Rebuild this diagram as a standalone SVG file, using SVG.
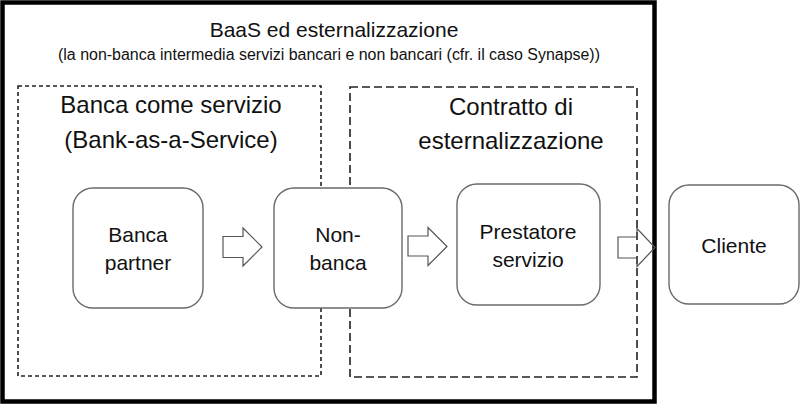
<svg xmlns="http://www.w3.org/2000/svg" width="800" height="405" viewBox="0 0 800 405">
<style>
text{font-family:"Liberation Sans",Arial,sans-serif;fill:#111;text-anchor:middle}
.node rect{fill:#fff;stroke:#6a6a6a;stroke-width:1.4}
.node text{font-size:21px}
.arrow{fill:none;stroke:#555;stroke-width:1.2;stroke-linejoin:miter}
.grp{fill:none;stroke:#222;stroke-width:1.6}
.hd{font-size:24px}
</style>
<rect width="800" height="405" fill="#fff"/>
<g id="outer">
<rect x="2.5" y="2.5" width="652" height="399" fill="none" stroke="#000" stroke-width="4.5"/>
<text x="334" y="37" font-size="21">BaaS ed esternalizzazione</text>
<text x="329" y="60" font-size="16" textLength="542" lengthAdjust="spacingAndGlyphs">(la non-banca intermedia servizi bancari e non bancari (cfr. il caso Synapse))</text>
</g>
<g id="baas">
<rect class="grp" x="18" y="86" width="303" height="290" stroke-dasharray="4 3"/>
<text class="hd" x="171" y="113">Banca come servizio</text>
<text class="hd" x="171" y="148">(Bank-as-a-Service)</text>
</g>
<g id="esternalizzazione">
<rect class="grp" x="350" y="87" width="287" height="290" stroke-dasharray="8 4"/>
<text class="hd" x="511" y="115">Contratto di</text>
<text class="hd" x="511" y="149">esternalizzazione</text>
</g>
<g id="connectors">
<polygon class="arrow" points="223,236.5 243,236.5 243,228 262,247 243,266 243,257.5 223,257.5"/>
<polygon class="arrow" points="408,236 428,236 428,227.5 447,246.5 428,265.5 428,256 408,256"/>
<polygon class="arrow" points="618,237 637,237 637,228.5 655,247.5 637,266.5 637,258 618,258"/>
</g>
<g id="banca-partner" class="node">
<rect x="73" y="188" width="130" height="120" rx="20"/>
<text x="138" y="242">Banca</text>
<text x="138" y="270">partner</text>
</g>
<g id="non-banca" class="node">
<rect x="274" y="188" width="128" height="120" rx="20"/>
<text x="338" y="242">Non-</text>
<text x="338" y="270">banca</text>
</g>
<g id="prestatore" class="node">
<rect x="457" y="184" width="143" height="121" rx="20"/>
<text x="528" y="239">Prestatore</text>
<text x="528" y="267">servizio</text>
</g>
<g id="cliente" class="node">
<rect x="669" y="185" width="130" height="119" rx="20"/>
<text x="734" y="253">Cliente</text>
</g>
</svg>
